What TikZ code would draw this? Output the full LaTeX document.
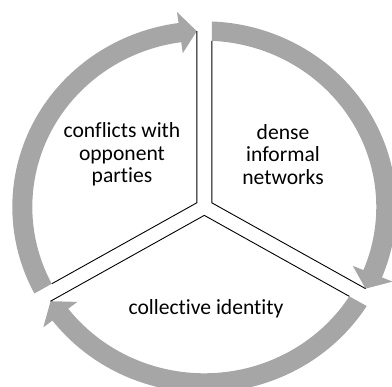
\documentclass[tikz,border=0pt]{standalone}
\usepackage{fontspec}
\setmainfont{Carlito}[Ligatures={NoCommon}]
\definecolor{ringgray}{HTML}{A6A6A6}
\begin{document}
\begin{tikzpicture}[x=1pt, y=1pt,
  cyclearrow/.style={fill=ringgray, draw=none},
  divider/.style={draw=black, line width=0.9pt, line join=miter},
  phase/.style={font=\fontsize{21.6}{22.6}\selectfont, align=center, inner sep=0pt, text=black}]
\useasboundingbox (0,0) rectangle (392,387);
% ring of three curved arrows, separated by a three-way split
\begin{scope}[shift={(204.3,180)}, yscale=0.967]
  \foreach \r/\k in {120/a, 0/b, -120/c}{
    \begin{scope}[rotate=\r]
      % curved arrow: tail at this divider, head at the next one clockwise
      \fill[cyclearrow] (87.76:192)
        arc[start angle=87.76, end angle=-22.29, radius=192]
        -- (-22.29:203.5) -- (-27.64:182) -- (-22.29:160.5)
        -- (-22.29:172)
        arc[start angle=-22.29, end angle=87.5, radius=172] -- cycle;
      % end points of the divider lines
      \coordinate (tip-\k)  at (-7.5,181.85);
      \coordinate (hub-\k)  at (7.5,4.33);
      \coordinate (tail-\k) at (7.5,171.84);
    \end{scope}
  }
\end{scope}
% divider lines, one polyline per sector
\draw[divider] (tail-a) -- (hub-a) -- (tip-b);
\draw[divider] (tail-b) -- (hub-b) -- (tip-c);
\draw[divider] (tail-c) -- (hub-c) -- (tip-a);
% sector labels
\node[phase] (conflicts) at (122,232.5) {conflicts with\\opponent\\parties};
\node[phase] (networks) at (283,232.5) {dense\\informal\\networks};
\node[phase, anchor=base] (identity) at (206,72) {collective identity};
\end{tikzpicture}
\end{document}
